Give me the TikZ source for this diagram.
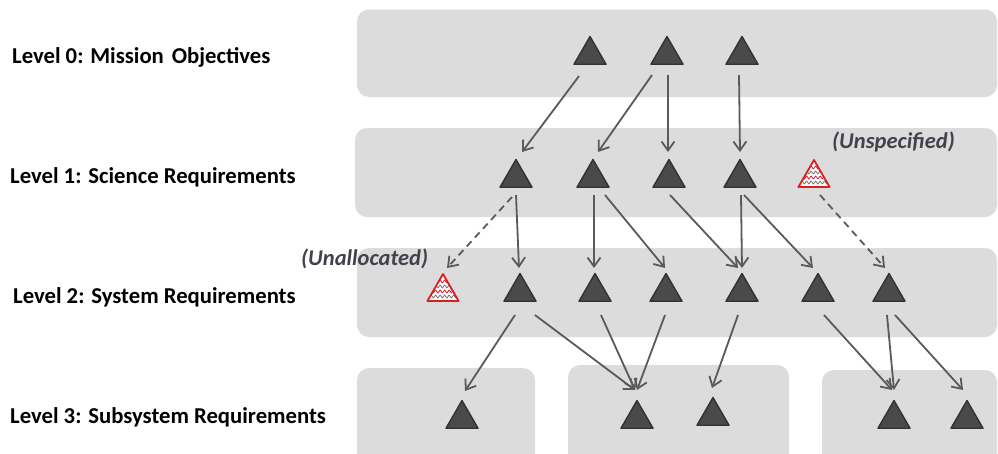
\documentclass[tikz,border=0pt]{standalone}
\usepackage{fontspec}
\setmainfont{Carlito}
\usetikzlibrary{shapes.geometric,arrows.meta,decorations.pathmorphing}
\definecolor{bandgray}{RGB}{220,220,220}
\definecolor{trifill}{RGB}{74,74,74}
\definecolor{triline}{RGB}{50,50,50}
\definecolor{arrgray}{RGB}{90,90,90}
\definecolor{notegray}{RGB}{66,66,76}
\definecolor{redtri}{RGB}{220,30,30}
\tikzset{
  band/.style={fill=bandgray, draw=none, rounded corners=12pt},
  tri/.style={regular polygon, regular polygon sides=3, minimum size=37pt,
    inner sep=0pt, outer sep=0pt, fill=trifill, draw=triline, line width=1.4pt, line join=round},
  redtri/.style={regular polygon, regular polygon sides=3, minimum size=36pt,
    inner sep=0pt, outer sep=0pt, fill=white, draw=redtri, line width=1.8pt, line join=round,
    path picture={
      \foreach \dy/\cc in {-6/red!70!violet,-1/gray!80!black,4/red!70!violet,9/gray!80!black}
        \draw[\cc, line width=0.7pt, decorate, decoration={zigzag,segment length=4.5pt,amplitude=1.6pt}]
          ([shift={(-22,\dy)}]path picture bounding box.center) -- ([shift={(22,\dy)}]path picture bounding box.center);
    }},
  arr/.style={draw=arrgray, line width=1.8pt, -{Straight Barb[length=9pt,width=13pt]}},
  dasharr/.style={arr, dash pattern=on 7pt off 5pt},
  lvl/.style={anchor=base west, inner sep=0pt, font=\bfseries\fontsize{22.7}{27}\selectfont, text=black},
  note/.style={anchor=base west, inner sep=0pt, font=\bfseries\itshape\fontsize{22.5}{27}\selectfont, text=notegray}
}
\begin{document}
\begin{tikzpicture}[x=1pt,y=-1pt]
\useasboundingbox (0,0) rectangle (998,453);
\clip (0,0) rectangle (998,453);
\fill[white] (0,0) rectangle (998,453);
% bands
\path[band] (357,9.5) rectangle (997,97);
\path[band] (355,128) rectangle (997,217);
\path[band] (357,248) rectangle (997,337);
\path[band] (357,368) rectangle (535,480);
\path[band] (568,365) rectangle (789,480);
\path[band] (822,370) rectangle (997,480);
% labels
\node[lvl] (l0) at (12,63) {Level 0: Mission\hspace{0.35em}Objectives};
\node[lvl] (l1) at (10,183) {Level 1: Science Requirements};
\node[lvl] (l2) at (13,303) {Level 2: System Requirements};
\node[lvl] (l3) at (10,423) {Level 3: Subsystem Requirements};
\node[note] (nu) at (301,265) {(Unallocated)};
\node[note] (ns) at (832,148) {(Unspecified)};
% level 0
\node[tri] (t0a) at (590,55) {};
\node[tri] (t0b) at (667,55) {};
\node[tri] (t0c) at (742,55) {};
% level 1
\node[tri] (t1a) at (516,178) {};
\node[tri] (t1b) at (593,178) {};
\node[tri] (t1c) at (669,178) {};
\node[tri] (t1d) at (740,178) {};
\node[redtri] (r1) at (814,178) {};
% level 2
\node[redtri] (r2) at (443,292) {};
\node[tri] (t2b) at (520,292) {};
\node[tri] (t2c) at (595,292) {};
\node[tri] (t2d) at (666,292) {};
\node[tri] (t2e) at (742,292) {};
\node[tri] (t2f) at (818,292) {};
\node[tri] (t2g) at (889,292) {};
% level 3
\node[tri] (t3a) at (462,419) {};
\node[tri] (t3b) at (637,419) {};
\node[tri] (t3c) at (713,416) {};
\node[tri] (t3d) at (894,419) {};
\node[tri] (t3e) at (967,419) {};
% level 0 -> 1
\draw[arr] ([shift={(-11,21)}]t0a.center) -- ([shift={(6,-26)}]t1a.center);
\draw[arr] ([shift={(-15,20)}]t0b.center) -- ([shift={(5,-26)}]t1b.center);
\draw[arr] ([shift={(1,20)}]t0b.center) -- ([shift={(-1,-26)}]t1c.center);
\draw[arr] ([shift={(-3,20)}]t0c.center) -- ([shift={(0,-26)}]t1d.center);
% level 1 -> 2
\draw[dasharr] ([shift={(-4,19)}]t1a.center) -- ([shift={(4,-24)}]r2.center);
\draw[arr] ([shift={(0,17)}]t1a.center) -- ([shift={(-1,-24)}]t2b.center);
\draw[arr] ([shift={(1,17)}]t1b.center) -- ([shift={(-1,-24)}]t2c.center);
\draw[arr] ([shift={(12,17)}]t1b.center) -- ([shift={(-1,-24)}]t2d.center);
\draw[arr] ([shift={(1,17)}]t1c.center) -- ([shift={(-4,-24)}]t2e.center);
\draw[arr] ([shift={(1,17)}]t1d.center) -- ([shift={(0,-24)}]t2e.center);
\draw[arr] ([shift={(4,17)}]t1d.center) -- ([shift={(-5,-24)}]t2f.center);
\draw[dasharr] ([shift={(6,17)}]r1.center) -- ([shift={(-4,-24)}]t2g.center);
% level 2 -> 3
\draw[arr] ([shift={(-5,23)}]t2b.center) -- ([shift={(3,-28)}]t3a.center);
\draw[arr] ([shift={(15,23)}]t2b.center) -- ([shift={(-2,-29)}]t3b.center);
\draw[arr] ([shift={(6,23)}]t2c.center) -- ([shift={(-2,-29)}]t3b.center);
\draw[arr] ([shift={(-1,23)}]t2d.center) -- ([shift={(0,-29)}]t3b.center);
\draw[arr] ([shift={(-4,23)}]t2e.center) -- ([shift={(-1,-28)}]t3c.center);
\draw[arr] ([shift={(6,23)}]t2f.center) -- ([shift={(-2,-29)}]t3d.center);
\draw[arr] ([shift={(-2,23)}]t2g.center) -- ([shift={(0,-29)}]t3d.center);
\draw[arr] ([shift={(6,23)}]t2g.center) -- ([shift={(-4,-29)}]t3e.center);
\end{tikzpicture}
\end{document}
